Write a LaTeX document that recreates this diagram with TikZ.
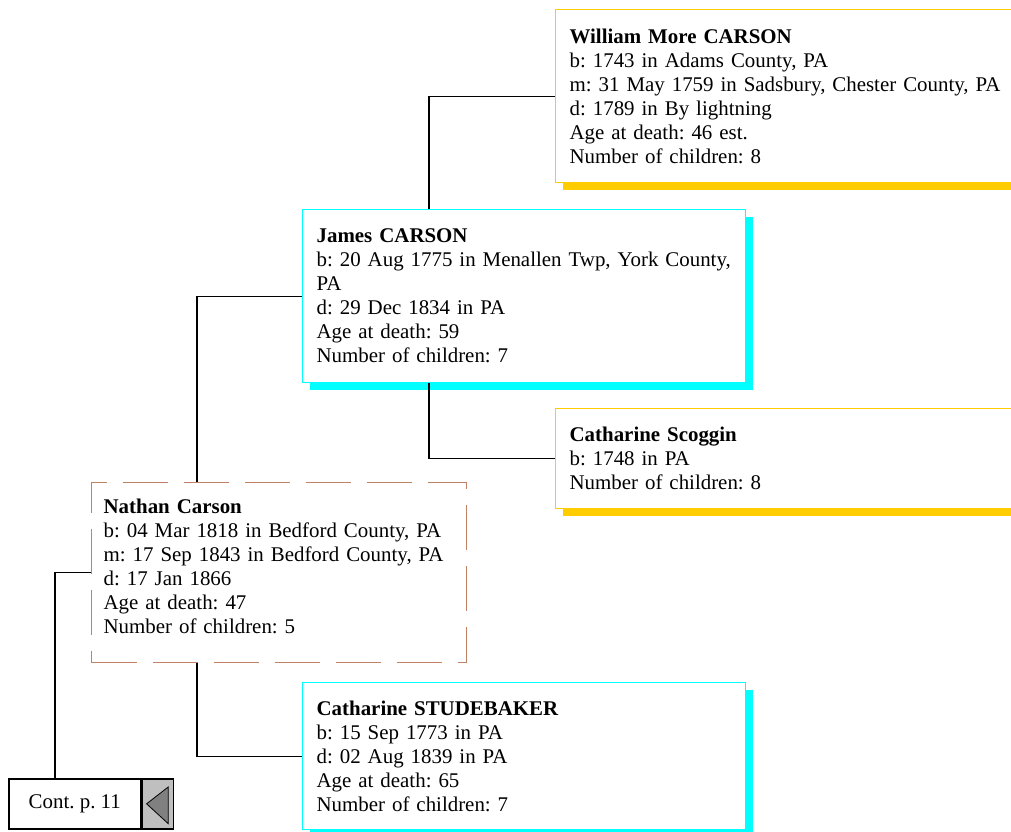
\documentclass[tikz,border=0pt]{standalone}
\usepackage{fontspec}
\setmainfont{Liberation Serif}
\usetikzlibrary{positioning,shadows}
\definecolor{gold}{RGB}{255,204,0}
\definecolor{aqua}{RGB}{0,255,255}
\definecolor{clay}{RGB}{192,130,100}
\begin{document}
\begin{tikzpicture}[
    x=1pt,y=1pt,
    person/.style={draw,fill=white,anchor=north west,align=left,inner xsep=14pt,inner ysep=0pt,
      line width=1.3pt,font=\fontsize{20.9}{24}\selectfont\frenchspacing},
    grand/.style={person,draw=gold,text width=442pt,
      general shadow={fill=gold,shadow xshift=7pt,shadow yshift=-7pt}},
    parent/.style={person,draw=aqua,text width=415pt,
      general shadow={fill=aqua,shadow xshift=7pt,shadow yshift=-7pt}},
    root/.style={person,draw=clay,dash pattern=on 45pt off 16pt,inner xsep=12pt,text width=351pt},
    contbox/.style={draw,fill=white,line width=1.6pt,minimum height=50pt,inner sep=0pt,
      font=\fontsize{20.9}{24}\selectfont\frenchspacing},
    link/.style={line width=1.2pt}
  ]
  \path[use as bounding box] (0,0) rectangle (1011,-831);
  \clip (0,0) rectangle (1011,-831);

  \node[grand,minimum height=173pt] (wm) at (555,-9) {\textbf{William More CARSON}\\
    b: 1743 in Adams County, PA\\
    m: 31 May 1759 in Sadsbury, Chester County, PA\\
    d: 1789 in By lightning\\
    Age at death: 46 est.\\
    Number of children: 8};
  \node[parent,minimum height=173pt] (jc) at (302,-209) {\textbf{James CARSON}\\
    \mbox{b: 20 Aug 1775 in Menallen Twp, York County,}\\
    PA\\
    d: 29 Dec 1834 in PA\\
    Age at death: 59\\
    Number of children: 7};
  \node[grand,minimum height=100pt] (cs) at (555,-408) {\textbf{Catharine Scoggin}\\
    b: 1748 in PA\\
    Number of children: 8};
  \node[root,minimum height=180pt] (nc) at (91,-482) {\textbf{Nathan Carson}\\
    b: 04 Mar 1818 in Bedford County, PA\\
    m: 17 Sep 1843 in Bedford County, PA\\
    d: 17 Jan 1866\\
    Age at death: 47\\
    Number of children: 5\rule[-12pt]{0pt}{12pt}};
  \node[parent,minimum height=147pt] (st) at (302,-682) {\textbf{Catharine STUDEBAKER}\\
    b: 15 Sep 1773 in PA\\
    d: 02 Aug 1839 in PA\\
    Age at death: 65\\
    Number of children: 7};

  \node[contbox,anchor=north west,minimum width=132pt] (cont) at (8,-778) {Cont. p. 11};
  \node[contbox,fill=gray!50,minimum width=31pt,right=0pt of cont] (tab) {};
  \draw[fill=gray,line width=0.8pt] ([xshift=5pt]tab.west) -- ([xshift=-6pt,yshift=-9pt]tab.north east)
    -- ([xshift=-6pt,yshift=6pt]tab.south east) -- cycle;

  \draw[link] ([xshift=127pt]jc.north west) |- (wm.west);
  \draw[link] ([xshift=127pt]jc.south west) |- (cs.west);
  \draw[link] ([xshift=106pt]nc.north west) |- (jc.west);
  \draw[link] ([xshift=106pt]nc.south west) |- (st.west);
  \draw[link] ([xshift=47pt]cont.north west) |- (nc.west);
\end{tikzpicture}
\end{document}
